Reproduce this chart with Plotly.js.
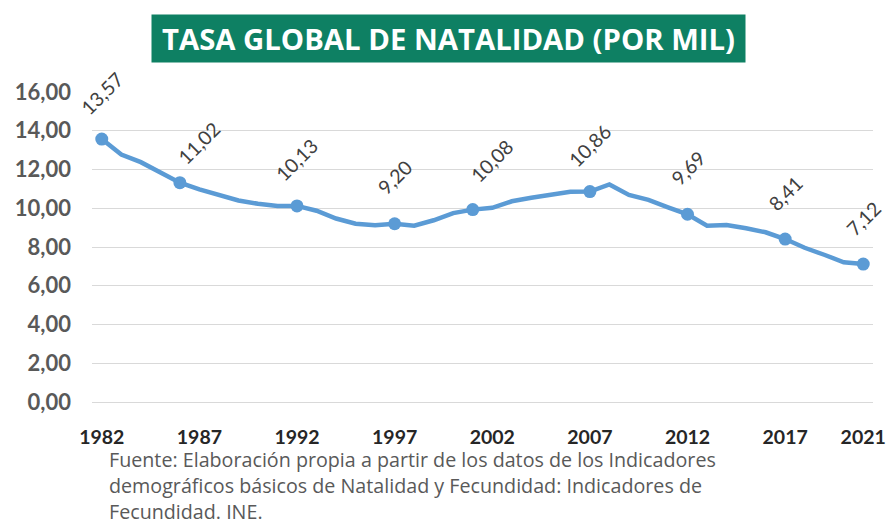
<!DOCTYPE html>
<html>
<head>
<meta charset="utf-8">
<script src="https://cdn.plot.ly/plotly-3.0.1.min.js"></script>
<style>html,body{margin:0;padding:0;background:#fff;}#chart{width:891px;height:527px;}</style>
</head>
<body>
<div id="chart"></div>
<script>
// Data
var years = [1982,1983,1984,1985,1986,1987,1988,1989,1990,1991,
             1992,1993,1994,1995,1996,1997,1998,1999,2000,2001,
             2002,2003,2004,2005,2006,2007,2008,2009,2010,2011,
             2012,2013,2014,2015,2016,2017,2018,2019,2020,2021];
var rates = [13.57,12.77,12.38,11.87,11.32,10.97,10.69,10.40,10.23,10.12,
             10.12,9.87,9.47,9.20,9.12,9.20,9.10,9.38,9.75,9.93,
             10.02,10.36,10.54,10.67,10.85,10.86,11.23,10.69,10.43,10.05,
             9.69,9.10,9.14,8.97,8.76,8.41,7.96,7.60,7.21,7.12];
var markerYears = [1982,1986,1992,1997,2001,2007,2012,2017,2021];
var labelYears  = [1982,1987,1992,1997,2002,2007,2012,2017,2021];
var labelValues = [13.57,11.02,10.13,9.20,10.08,10.86,9.69,8.41,7.12];
var tickYears   = [1982,1987,1992,1997,2002,2007,2012,2017,2021];
var titleText = 'TASA GLOBAL DE NATALIDAD (POR MIL)';
var sourceLines = [
  'Fuente: Elaboración propia a partir de los datos de los Indicadores',
  'demográficos básicos de Natalidad y Fecundidad: Indicadores de',
  'Fecundidad. INE.'
];

var blue = '#5B9BD5';
var markerRates = markerYears.map(function(y){ return rates[years.indexOf(y)]; });

var traces = [
  {x: years, y: rates, type: 'scatter', mode: 'lines',
   line: {color: blue, width: 4.5, shape: 'linear'}, hoverinfo: 'skip'},
  {x: markerYears, y: markerRates, type: 'scatter', mode: 'markers',
   marker: {color: blue, size: 13}, hoverinfo: 'skip'}
];

var annotations = labelYears.map(function(yr, i){
  return {x: yr, y: labelValues[i], xref: 'x', yref: 'y',
    text: labelValues[i].toFixed(2).replace('.', ','),
    showarrow: false, textangle: -45, xanchor: 'center', yanchor: 'middle',
    yshift: 46, font: {family: 'Lato, sans-serif', size: 19.5, color: '#404040'}};
});

annotations.push({
  xref: 'paper', yref: 'paper', x: 0.4565, y: 1.1734,
  xanchor: 'center', yanchor: 'middle', showarrow: false,
  text: '<b>' + titleText + '</b>', width: 593, height: 47,
  bgcolor: '#0E8063', borderpad: 0,
  font: {family: '"Open Sans", sans-serif', size: 29.3, color: '#ffffff'}
});

var plotH = 310;
var lineYs = [459.5, 485.5, 511.5];
sourceLines.forEach(function(t, i){
  annotations.push({
    xref: 'paper', yref: 'paper', x: (108 - 92) / 781, y: -(lineYs[i] - 402) / plotH,
    xanchor: 'left', yanchor: 'middle', showarrow: false, text: t, borderpad: 0,
    font: {family: '"Open Sans", sans-serif', size: 19.7, color: '#595959'}
  });
});

var layout = {
  width: 891, height: 527,
  margin: {l: 92, r: 18, t: 92, b: 125},
  paper_bgcolor: '#ffffff', plot_bgcolor: '#ffffff',
  showlegend: false,
  separators: ',.',
  xaxis: {
    range: [1981.5, 2021.5], tickmode: 'array', tickvals: tickYears,
    ticktext: tickYears.map(String),
    showgrid: false, zeroline: false, showline: false, ticks: '',
    ticklabelstandoff: 21,
    tickfont: {family: 'Lato, sans-serif', size: 19.5, color: '#262626', weight: 'bold'}
  },
  yaxis: {
    range: [0, 16], dtick: 2, tick0: 0, tickformat: '.2f',
    showgrid: true, gridcolor: '#d9d9d9', gridwidth: 1,
    zeroline: true, zerolinecolor: '#d9d9d9', zerolinewidth: 1,
    showline: false, ticks: '', ticklabelstandoff: 20,
    tickfont: {family: 'Lato, sans-serif', size: 22, color: '#595959', weight: 'bold'}
  },
  annotations: annotations
};

Plotly.newPlot('chart', traces, layout, {displayModeBar: false, staticPlot: true});
</script>
</body>
</html>
